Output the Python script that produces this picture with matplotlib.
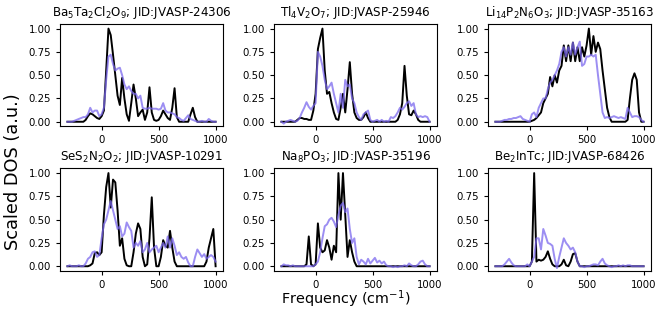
import numpy as np
import matplotlib
matplotlib.use('Agg')
import matplotlib.pyplot as plt

# frequency grid (cm^-1), step 20 from -300 to 1000
freq = np.arange(-300, 1001, 20)

titles = [
    r'Ba$_5$Ta$_2$Cl$_2$O$_9$; JID:JVASP-24306',
    r'Tl$_4$V$_2$O$_7$; JID:JVASP-25946',
    r'Li$_{14}$P$_2$N$_6$O$_3$; JID:JVASP-35163',
    r'SeS$_2$N$_2$O$_2$; JID:JVASP-10291',
    r'Na$_8$PO$_3$; JID:JVASP-35196',
    r'Be$_2$InTc; JID:JVASP-68426',
]

# black curves (reference DOS)
dos_ba = [0, 0, 0, 0, 0, 0, 0, 0, 0.02, 0.06, 0.09,
          0.08, 0.06, 0.04, 0.03, 0.06, 0.12, 0.55, 1.0, 0.93, 0.72, 0.5,
          0.28, 0.18, 0.47, 0.25, 0.08, 0.01, 0.2, 0.4, 0.25, 0.06, 0.1,
          0.13, 0.02, 0.1, 0.37, 0.1, 0.02, 0.01, 0.02, 0.06, 0.12, 0.08,
          0.04, 0.02, 0.15, 0.36, 0.05, 0, 0, 0, 0, 0, 0.08,
          0.15, 0.05, 0, 0, 0, 0, 0, 0, 0, 0, 0]
dos_tl = [0, 0, 0, 0, 0, 0, 0, 0.02, 0.04, 0.04, 0.03,
          0.03, 0.02, 0.02, 0.12, 0.3, 0.78, 0.9, 1.0, 0.55, 0.3, 0.32,
          0.2, 0.1, 0.03, 0.02, 0.15, 0.3, 0.1, 0.35, 0.64, 0.3, 0.1,
          0.04, 0.02, 0.02, 0.05, 0.1, 0.04, 0, 0, 0, 0, 0,
          0, 0, 0, 0, 0, 0, 0, 0.02, 0.08, 0.2, 0.6,
          0.28, 0.08, 0.07, 0.12, 0.08, 0.02, 0, 0, 0, 0, 0]
dos_li = [0, 0, 0, 0, 0, 0, 0, 0, 0, 0, 0,
          0, 0, 0, 0, 0, 0.01, 0.02, 0.04, 0.07, 0.1, 0.2,
          0.25, 0.3, 0.48, 0.38, 0.5, 0.42, 0.55, 0.6, 0.82, 0.65, 0.82,
          0.65, 0.85, 0.65, 0.8, 0.65, 0.8, 0.7, 0.82, 1.0, 0.72, 0.92,
          0.75, 0.85, 0.78, 0.55, 0.35, 0.15, 0.05, 0, 0, 0, 0,
          0, 0, 0, 0.02, 0.25, 0.45, 0.52, 0.45, 0.1, 0, 0]
dos_se = [0, 0, 0, 0, 0, 0, 0, 0, 0, 0, 0.01,
          0.03, 0.14, 0.15, 0.12, 0.15, 0.55, 0.85, 1.0, 0.63, 0.93, 0.9,
          0.6, 0.22, 0.3, 0.08, 0.01, 0, 0, 0.15, 0.35, 0.46, 0.4,
          0.1, 0, 0.02, 0.3, 0.74, 0.2, 0, 0, 0.1, 0.28, 0.22,
          0.2, 0.38, 0.2, 0.05, 0, 0, 0, 0, 0, 0, 0,
          0, 0, 0, 0, 0, 0, 0.05, 0.2, 0.3, 0.4, 0]
dos_na = [0, 0, 0, 0, 0, 0, 0, 0, 0, 0, 0,
          0.02, 0.32, 0.02, 0, 0.02, 0.46, 0.2, 0.15, 0.17, 0.28, 0.2,
          0.07, 0.22, 0.15, 1.0, 0.5, 1.0, 0.55, 0.1, 0.28, 0.15, 0.05,
          0, 0, 0, 0, 0, 0, 0, 0, 0, 0, 0,
          0, 0, 0, 0, 0, 0, 0, 0, 0, 0, 0,
          0, 0, 0, 0, 0, 0, 0, 0, 0, 0, 0]
dos_be = [0, 0, 0, 0, 0, 0, 0, 0, 0, 0, 0,
          0, 0, 0, 0, 0, 0.05, 1.0, 0.05, 0.07, 0.06, 0.07,
          0.1, 0.16, 0.08, 0.02, 0, 0, 0, 0.02, 0.07, 0.01, 0,
          0.05, 0.13, 0.14, 0.05, 0, 0, 0, 0, 0, 0, 0,
          0, 0, 0, 0, 0, 0, 0, 0, 0, 0, 0,
          0, 0, 0, 0, 0, 0, 0, 0, 0, 0, 0]

# purple curves (predicted DOS)
pred_ba = [0, 0, 0, 0.01, 0.02, 0.03, 0.04, 0.05, 0.05, 0.08, 0.15,
           0.1, 0.12, 0.12, 0.06, 0.08, 0.15, 0.45, 0.7, 0.72, 0.62, 0.55,
           0.57, 0.58, 0.5, 0.4, 0.35, 0.38, 0.33, 0.3, 0.3, 0.25, 0.28,
           0.15, 0.14, 0.14, 0.15, 0.14, 0.14, 0.14, 0.13, 0.14, 0.2, 0.12,
           0.1, 0.1, 0.09, 0.08, 0.05, 0.04, 0.02, 0.01, 0.04, 0.07, 0.03,
           0.02, 0.01, 0, 0, 0.01, 0, 0, 0.03, 0.01, 0, 0]
pred_tl = [0, -0.02, 0, 0.01, 0.02, 0.01, 0, 0.01, 0.04, 0.1, 0.15,
           0.21, 0.16, 0.13, 0.17, 0.2, 0.75, 0.7, 0.6, 0.45, 0.35, 0.38,
           0.42, 0.3, 0.2, 0.1, 0.3, 0.15, 0.45, 0.38, 0.4, 0.25, 0.2,
           0.1, 0.05, 0.02, 0.08, 0.1, 0.12, 0.02, 0, 0.01, 0.02, 0,
           0.02, 0, 0.01, 0, 0.05, 0.04, 0.06, 0.1, 0.15, 0.13, 0.16,
           0.2, 0.22, 0.17, 0.2, 0.08, 0.05, 0.06, 0.05, 0.06, 0.05, 0]
pred_li = [0, 0, 0, 0.01, 0.02, 0.02, 0.03, 0.03, 0.04, 0.04, 0.05,
           0.06, 0.03, 0.02, 0.01, 0, 0.08, 0.1, 0.05, 0.15, 0.2, 0.25,
           0.25, 0.35, 0.42, 0.45, 0.5, 0.55, 0.62, 0.75, 0.8, 0.7, 0.8,
           0.72, 0.85, 0.72, 0.8, 0.86, 0.6, 0.62, 0.7, 0.7, 0.72, 0.7,
           0.72, 0.5, 0.3, 0.1, 0.04, 0.05, 0.04, 0.05, 0.06, 0.05, 0.04,
           0.05, 0.04, 0.03, 0.15, 0.1, 0.05, 0.06, 0.06, 0.05, 0.02, 0]
pred_se = [0, 0.01, 0, 0, 0, 0.01, 0, 0, 0.03, 0.08, 0.1,
           0.15, 0.16, 0.1, 0.12, 0.3, 0.45, 0.5, 0.6, 0.7, 0.6, 0.5,
           0.4, 0.43, 0.32, 0.35, 0.47, 0.42, 0.38, 0.2, 0.25, 0.22, 0.27,
           0.15, 0.18, 0.25, 0.15, 0.18, 0.2, 0.22, 0.15, 0.2, 0.25, 0.2,
           0.32, 0.2, 0.3, 0.22, 0.12, 0.15, 0.1, 0.08, 0.1, 0.04, 0,
           0, 0.1, 0.18, 0.14, 0.1, 0.13, 0.08, 0.1, 0.12, 0.1, 0.05]
pred_na = [0, 0.02, 0.01, 0.01, 0, 0.01, 0, 0, 0, 0, 0,
           0, 0, 0, 0, 0.02, 0.05, 0.15, 0.3, 0.43, 0.45, 0.5,
           0.52, 0.48, 0.42, 0.55, 0.65, 0.68, 0.58, 0.62, 0.4, 0.25, 0.3,
           0.1, 0.02, 0.07, 0.05, 0.02, 0.08, 0.03, 0.06, 0.09, 0.04, 0.06,
           0.03, 0.05, 0.01, 0, 0, -0.01, 0, -0.01, 0, 0, 0.01,
           0, 0.03, 0.01, 0, 0, 0.02, 0.05, 0.06, 0.02, 0, 0]
pred_be = [0, 0, 0, 0, 0.02, 0.05, 0.08, 0.04, 0.01, 0, 0,
           0, 0, 0, 0.02, 0, 0.05, 0.1, 0.3, 0.3, 0.18, 0.4,
           0.33, 0.25, 0.24, 0.22, 0.08, -0.02, 0.1, 0.2, 0.3, 0.25, 0.22,
           0.18, 0.2, 0.15, 0.05, 0, 0, -0.01, 0, 0, 0.01, 0.02,
           0.02, 0.01, 0.05, 0.08, 0.03, 0.01, 0, -0.01, 0, 0, 0.01,
           0, 0.01, 0, 0.01, 0.01, 0, 0, 0, 0, 0, 0]

true_sets = [dos_ba, dos_tl, dos_li, dos_se, dos_na, dos_be]
pred_sets = [pred_ba, pred_tl, pred_li, pred_se, pred_na, pred_be]

fig, axes = plt.subplots(2, 3, figsize=(6.64, 3.15), dpi=100)
plt.subplots_adjust(left=0.0904, right=0.9804, bottom=0.14, top=0.924,
                    wspace=0.313, hspace=0.41)

for ax, title, y_true, y_pred in zip(axes.flat, titles, true_sets, pred_sets):
    ax.plot(freq, y_true, color='black', linewidth=1.4)
    ax.plot(freq, y_pred, color='mediumslateblue', alpha=0.75, linewidth=1.4)
    ax.set_title(title, fontsize=8.6)
    ax.set_xticks([0, 500, 1000])
    ax.set_yticks([0, 0.25, 0.5, 0.75, 1.0])
    ax.tick_params(labelsize=7.3, length=3)
    ax.set_ylim(-0.05, 1.05)

fig.text(0.019, 0.455, 'Scaled DOS (a.u.)', rotation=90, fontsize=12.8,
         ha='center', va='center')
fig.text(0.52, 0.05, r'Frequency (cm$^{-1}$)', fontsize=10.4,
         ha='center', va='center')

plt.savefig('out.png', dpi=100)
